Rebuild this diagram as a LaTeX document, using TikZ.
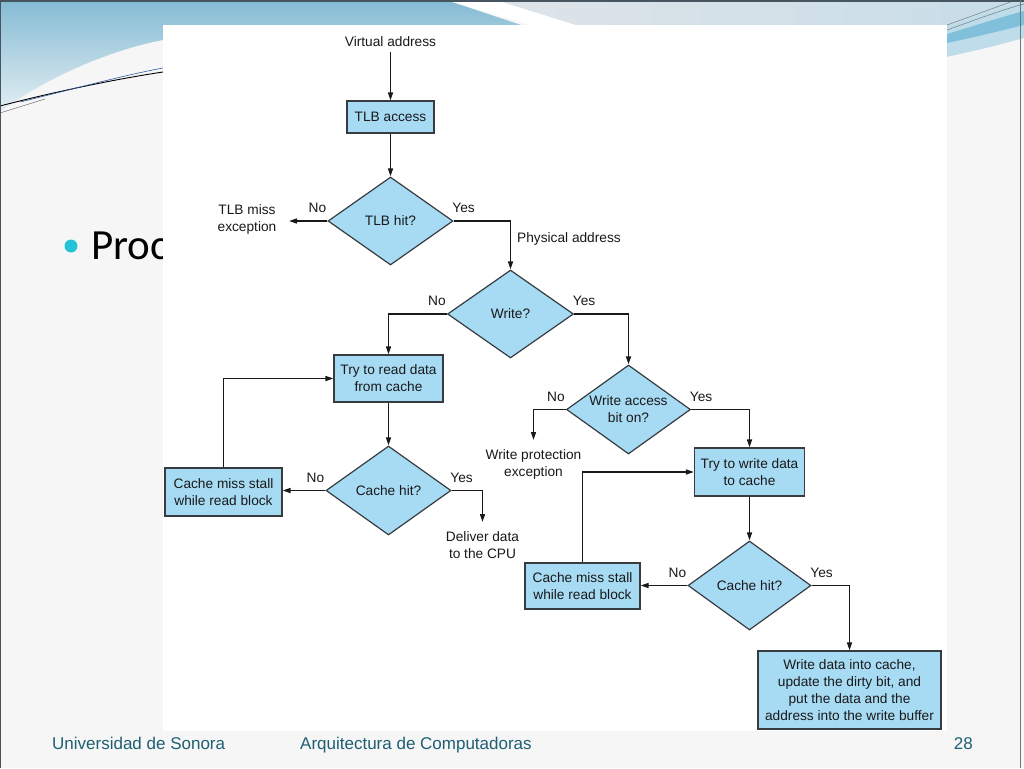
\documentclass[tikz,border=0pt]{standalone}
\usepackage{fontspec}
\setmainfont{Liberation Sans}
\newfontfamily\procfont{Carlito}
\usetikzlibrary{shapes.geometric,arrows.meta}
\definecolor{boxfill}{RGB}{167,219,244}
\definecolor{edgecol}{RGB}{55,60,65}
\definecolor{linecol}{RGB}{25,25,25}
\definecolor{slidebg}{RGB}{246,246,246}
\definecolor{footcol}{RGB}{30,95,115}
\definecolor{bullcol}{RGB}{36,196,216}
\definecolor{topblue}{RGB}{132,187,212}
\definecolor{lowblue}{RGB}{228,238,242}
\definecolor{topgray}{RGB}{222,228,233}
\definecolor{topgray2}{RGB}{200,221,231}
\definecolor{swlight}{RGB}{190,220,233}
\definecolor{swdark}{RGB}{128,192,218}
\definecolor{framecol}{RGB}{70,85,95}
\definecolor{lineblue}{RGB}{50,90,160}
\newcommand\diagfont{\fontsize{13.7}{17}\selectfont}
\newcommand\footfont{\fontsize{17}{20}\selectfont}
\tikzset{
  box/.style={draw=edgecol, line width=1.2pt, fill=boxfill, inner sep=0pt, align=center, font=\diagfont, text=linecol},
  dec/.style={diamond, draw=edgecol, line width=1.2pt, fill=boxfill, inner sep=0pt, aspect=1.41, align=center, font=\diagfont, text=linecol},
  txt/.style={inner sep=0pt, align=center, font=\diagfont, text=linecol},
  flow/.style={line width=1.5pt, draw=linecol, -{Triangle[length=8pt,width=5pt]}},
  foot/.style={inner sep=0pt, font=\footfont, text=footcol, anchor=base west},
}
\begin{document}
\begin{tikzpicture}[x=1pt,y=-1pt]
\useasboundingbox (0,0) rectangle (1024,768);
% slide background
\fill[slidebg] (0,0) rectangle (1024,768);
% top-left blue swoosh
\shade[top color=topblue, bottom color=lowblue]
  (0,0) -- (446,0) -- (530,28) -- (163,40) .. controls (110,50) and (45,78) .. (0,112) -- cycle;
% white diagonal band
\fill[white] (446,0) -- (496,0) -- (576,25) -- (530,25) -- cycle;
% top gray strip
\shade[left color=topgray, right color=topgray2] (496,0) -- (1024,0) -- (1024,25) -- (576,25) -- cycle;
\fill[topgray2] (940,0) -- (1024,0) -- (1024,40) -- (940,40) -- cycle;
% top-right swoosh
\fill[swlight] (947,27) .. controls (980,15) and (1005,7) .. (1024,2) -- (1024,38) .. controls (1000,45) and (975,51) .. (947,57) -- cycle;
\fill[swdark] (947,34) .. controls (980,24) and (1005,16) .. (1024,11) -- (1024,25) .. controls (1000,31) and (975,37) .. (947,43) -- cycle;
\fill[slidebg] (947,57) .. controls (975,51) and (1000,45) .. (1024,38) -- (1024,80) -- (947,80) -- cycle;
\draw[framecol!70, line width=0.6pt] (947,25) -- (1016,0);
\draw[framecol!70, line width=0.6pt] (947,30) .. controls (980,18) and (1005,9) .. (1024,4);
% left lines
\draw[black, line width=0.9pt] (0,106) .. controls (50,93) and (110,80) .. (163,72);
\draw[lineblue, line width=0.6pt] (20,102) .. controls (70,90) and (120,76) .. (163,68);
\draw[gray, line width=0.6pt] (0,113) -- (45,99);
% frame
\fill[framecol] (0,0) rectangle (1024,1.6);
\draw[framecol, line width=1pt] (0.5,0) -- (0.5,768);
\draw[framecol!80, line width=1pt] (1020,0) -- (1020,768);
% bullet text (covered by panel)
\fill[bullcol] (71,246) circle (6.5);
\node[inner sep=0pt, anchor=base west, font=\procfont\fontsize{43}{48}\selectfont, text=black] (proc) at (91,259) {Proc};
% white panel holding the figure
\fill[white] (163,25) rectangle (947,731);
% footer
\node[foot] (f1) at (52,749) {Universidad de Sonora};
\node[foot] (f2) at (300,749) {Arquitectura de Computadoras};
\node[foot, anchor=base east] (f3) at (973,749) {28};

% ---------- flowchart ----------
\node[txt, inner sep=5pt] (va) at (390.5,42) {Virtual address};
\node[box, minimum width=87, minimum height=32] (tlb) at (390.5,117) {TLB access};
\node[dec, minimum width=125, minimum height=88] (d1) at (390.5,221) {TLB hit?};
\coordinate (missin) at (289,221);
\node[txt] (miss) at (247,219.5) {TLB miss\\exception};
\node[txt, anchor=west] (pa) at (517,238.5) {Physical address};
\node[dec, minimum width=126, minimum height=88] (d2) at (510.5,314) {Write?};
\node[box, minimum width=109, minimum height=47] (rd) at (388.5,378.5) {Try to read data\\from cache};
\node[dec, minimum width=125, minimum height=89] (d3) at (388.5,490.5) {Cache hit?};
\node[box, minimum width=117, minimum height=48] (cms1) at (223.5,492) {Cache miss stall\\while read block};
\coordinate (dvin) at (482.5,522);
\node[txt] (dv) at (482.5,545.5) {Deliver data\\to the CPU};
\node[dec, minimum width=124, minimum height=89] (d4) at (628.5,409.5) {Write access\\bit on?};
\coordinate (wpin) at (533.5,440);
\node[txt] (wp) at (533.5,464) {Write protection\\exception};
\node[box, minimum width=110, minimum height=48] (wr) at (749.5,472) {Try to write data\\to cache};
\node[dec, minimum width=123, minimum height=89] (d5) at (749.5,585.5) {Cache hit?};
\node[box, minimum width=115, minimum height=46] (cms2) at (582.5,586) {Cache miss stall\\while read block};
\node[box, minimum width=183, minimum height=78] (fin) at (849.5,690) {Write data into cache,\\update the dirty bit, and\\put the data and the\\address into the write buffer};

% connectors
\draw[flow] (va.south) -- (tlb.north);
\draw[flow] (tlb.south) -- (d1.north);
\draw[flow] (d1.west) -- (missin);
\draw[flow] (d1.east) -| (d2.north);
\draw[flow] (d2.west) -| (rd.north);
\draw[flow] (d2.east) -| (d4.north);
\draw[flow] (rd.south) -- (d3.north);
\draw[flow] (d3.west) -- (d3.west -| cms1.east);
\draw[flow] (cms1.north) |- (rd.west);
\draw[flow] (d3.east) -| (dvin);
\draw[flow] (d4.west) -| (wpin);
\draw[flow] (d4.east) -| (wr.north);
\draw[flow] (wr.south) -- (d5.north);
\draw[flow] (d5.west) -- (d5.west -| cms2.east);
\draw[flow] (cms2.north) |- (wr.west);
\draw[flow] (d5.east) -| (fin.north);

% branch labels
\foreach \d in {d1,d2,d3,d4,d5}{
  \node[txt] (no\d) at ([shift={(-10,-13)}]\d.west) {No};
  \node[txt] (yes\d) at ([shift={(10,-13)}]\d.east) {Yes};
}
\end{tikzpicture}
\end{document}
